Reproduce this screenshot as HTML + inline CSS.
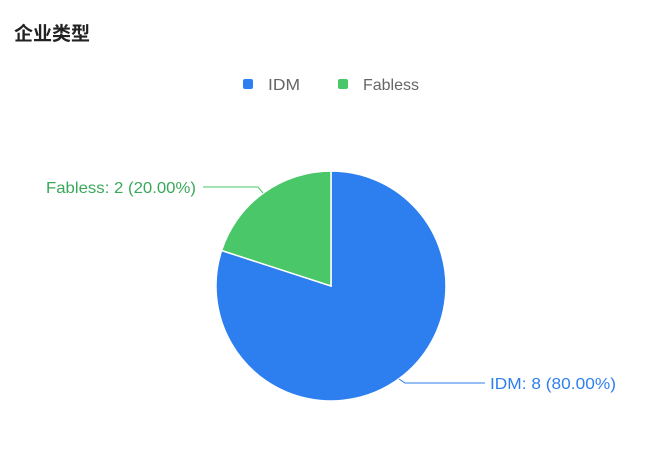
<!DOCTYPE html>
<html><head><meta charset="utf-8"><style>
html,body{margin:0;padding:0;background:#fff;}
svg{display:block;}
</style></head><body>
<svg width="660" height="468" viewBox="0 0 660 468" xmlns="http://www.w3.org/2000/svg">
<rect width="660" height="468" fill="#fff"/>
<text x="14" y="40" font-family="'Liberation Sans','Noto Sans CJK SC',sans-serif" font-size="19" font-weight="bold" fill="#222">企业类型</text>
<rect x="243" y="79" width="10" height="10" rx="2" fill="#2d7ff0"/>
<text x="268" y="90" font-family="'Liberation Sans',sans-serif" font-size="16" fill="#666" textLength="32" lengthAdjust="spacingAndGlyphs">IDM</text>
<rect x="338" y="79" width="10" height="10" rx="2" fill="#4ac768"/>
<text x="363" y="90" font-family="'Liberation Sans',sans-serif" font-size="16" fill="#666" textLength="56" lengthAdjust="spacingAndGlyphs">Fabless</text>
<path d="M331,286 L331,171 A115,115 0 1 1 221.6,250.5 Z" fill="#2d7ff0" stroke="#fff" stroke-width="1.5"/>
<path d="M331,286 L221.6,250.5 A115,115 0 0 1 331,171 Z" fill="#4ac768" stroke="#fff" stroke-width="1.5"/>
<polyline points="263,193 258,187 203,187" fill="none" stroke="#4ac768" stroke-width="1"/>
<text x="46" y="193" font-family="'Liberation Sans',sans-serif" font-size="16" fill="#3aa85a" textLength="150" lengthAdjust="spacingAndGlyphs">Fabless: 2 (20.00%)</text>
<polyline points="399,379 405,383 485,383" fill="none" stroke="#2d7ff0" stroke-width="1"/>
<text x="490" y="389" font-family="'Liberation Sans',sans-serif" font-size="16" fill="#2d7ff0" textLength="126" lengthAdjust="spacingAndGlyphs">IDM: 8 (80.00%)</text>
</svg>
</body></html>
